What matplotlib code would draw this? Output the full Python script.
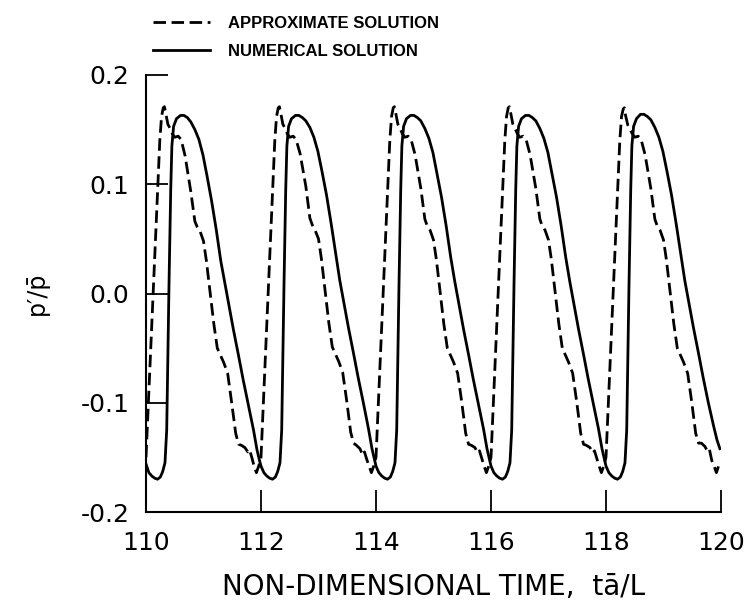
import matplotlib
matplotlib.use("Agg")
import matplotlib.pyplot as plt

# ---- data ----
approx_t = [
    110.00, 110.06, 110.12, 110.18, 110.24, 110.27, 110.30, 110.32, 110.34, 110.38,
    110.42, 110.46, 110.50, 110.56, 110.61, 110.68, 110.78, 110.85, 110.89, 110.94,
    111.00, 111.05, 111.10, 111.18, 111.24, 111.29, 111.35, 111.42, 111.49, 111.56,
    111.61, 111.66, 111.72, 111.77, 111.80, 111.84, 111.88, 111.92, 111.96,
    112.00, 112.06, 112.12, 112.18, 112.24, 112.27, 112.30, 112.32, 112.34, 112.38,
    112.42, 112.46, 112.50, 112.56, 112.61, 112.68, 112.78, 112.85, 112.89, 112.94,
    113.00, 113.05, 113.10, 113.18, 113.24, 113.29, 113.35, 113.42, 113.49, 113.56,
    113.61, 113.66, 113.72, 113.77, 113.80, 113.84, 113.88, 113.92, 113.96,
    114.00, 114.06, 114.12, 114.18, 114.24, 114.27, 114.30, 114.32, 114.34, 114.38,
    114.42, 114.46, 114.50, 114.56, 114.61, 114.68, 114.78, 114.85, 114.89, 114.94,
    115.00, 115.05, 115.10, 115.18, 115.24, 115.29, 115.35, 115.42, 115.49, 115.56,
    115.61, 115.66, 115.72, 115.77, 115.80, 115.84, 115.88, 115.92, 115.96,
    116.00, 116.06, 116.12, 116.18, 116.24, 116.27, 116.30, 116.32, 116.34, 116.38,
    116.42, 116.46, 116.50, 116.56, 116.61, 116.68, 116.78, 116.85, 116.89, 116.94,
    117.00, 117.05, 117.10, 117.18, 117.24, 117.29, 117.35, 117.42, 117.49, 117.56,
    117.61, 117.66, 117.72, 117.77, 117.80, 117.84, 117.88, 117.92, 117.96,
    118.00, 118.06, 118.12, 118.18, 118.24, 118.27, 118.30, 118.32, 118.34, 118.38,
    118.42, 118.46, 118.50, 118.56, 118.61, 118.68, 118.78, 118.85, 118.89, 118.94,
    119.00, 119.05, 119.10, 119.18, 119.24, 119.29, 119.35, 119.42, 119.49, 119.56,
    119.61, 119.66, 119.72, 119.77, 119.80, 119.84, 119.88, 119.92, 119.97,
]
approx_p = [
    -0.150, -0.078, -0.006, 0.066, 0.140, 0.162, 0.170, 0.171, 0.166, 0.155,
    0.151, 0.146, 0.143, 0.144, 0.141, 0.126, 0.093, 0.066, 0.061, 0.057,
    0.048, 0.030, 0.008, -0.028, -0.050, -0.056, -0.063, -0.073, -0.100, -0.128,
    -0.138, -0.139, -0.141, -0.145, -0.143, -0.150, -0.158, -0.164, -0.158,
    -0.150, -0.078, -0.006, 0.066, 0.140, 0.162, 0.170, 0.171, 0.166, 0.155,
    0.151, 0.146, 0.143, 0.144, 0.141, 0.128, 0.098, 0.069, 0.063, 0.058,
    0.050, 0.032, 0.009, -0.027, -0.049, -0.055, -0.062, -0.072, -0.098, -0.127,
    -0.137, -0.139, -0.142, -0.148, -0.145, -0.152, -0.158, -0.164, -0.158,
    -0.150, -0.078, -0.006, 0.066, 0.140, 0.162, 0.170, 0.171, 0.166, 0.155,
    0.151, 0.146, 0.143, 0.144, 0.141, 0.127, 0.096, 0.068, 0.062, 0.058,
    0.049, 0.031, 0.008, -0.028, -0.050, -0.056, -0.063, -0.073, -0.099, -0.128,
    -0.138, -0.139, -0.141, -0.146, -0.144, -0.151, -0.158, -0.164, -0.158,
    -0.150, -0.078, -0.006, 0.066, 0.140, 0.162, 0.170, 0.171, 0.166, 0.155,
    0.151, 0.146, 0.143, 0.144, 0.141, 0.127, 0.096, 0.068, 0.062, 0.058,
    0.049, 0.031, 0.008, -0.028, -0.050, -0.056, -0.063, -0.073, -0.099, -0.128,
    -0.138, -0.139, -0.141, -0.146, -0.144, -0.151, -0.158, -0.164, -0.158,
    -0.150, -0.078, -0.006, 0.066, 0.140, 0.162, 0.169, 0.170, 0.163, 0.154,
    0.150, 0.146, 0.143, 0.144, 0.141, 0.127, 0.096, 0.068, 0.062, 0.058,
    0.049, 0.031, 0.008, -0.028, -0.050, -0.056, -0.063, -0.073, -0.099, -0.128,
    -0.137, -0.137, -0.140, -0.145, -0.143, -0.153, -0.158, -0.164, -0.156,
]

numer_t = [
    110.00, 110.05, 110.10, 110.15, 110.20, 110.25, 110.29, 110.33, 110.36, 110.38,
    110.40, 110.43, 110.45, 110.48, 110.53, 110.60, 110.66, 110.72, 110.78, 110.85,
    110.92, 110.99, 111.06, 111.14, 111.22, 111.30, 111.37, 111.45, 111.52, 111.61,
    111.69, 111.78, 111.87, 111.93, 111.97,
    112.00, 112.05, 112.10, 112.15, 112.20, 112.25, 112.29, 112.33, 112.36, 112.38,
    112.40, 112.43, 112.45, 112.48, 112.53, 112.60, 112.66, 112.72, 112.78, 112.85,
    112.92, 112.99, 113.06, 113.14, 113.22, 113.30, 113.37, 113.45, 113.52, 113.61,
    113.69, 113.78, 113.87, 113.93, 113.97,
    114.00, 114.05, 114.10, 114.15, 114.20, 114.25, 114.29, 114.33, 114.36, 114.38,
    114.40, 114.43, 114.45, 114.48, 114.53, 114.60, 114.66, 114.72, 114.78, 114.85,
    114.92, 114.99, 115.06, 115.14, 115.22, 115.30, 115.37, 115.45, 115.52, 115.61,
    115.69, 115.78, 115.87, 115.93, 115.97,
    116.00, 116.05, 116.10, 116.15, 116.20, 116.25, 116.29, 116.33, 116.36, 116.38,
    116.40, 116.43, 116.45, 116.48, 116.53, 116.60, 116.66, 116.72, 116.78, 116.85,
    116.92, 116.99, 117.06, 117.14, 117.22, 117.30, 117.37, 117.45, 117.52, 117.61,
    117.69, 117.78, 117.87, 117.93, 117.97,
    118.00, 118.05, 118.10, 118.15, 118.20, 118.25, 118.29, 118.33, 118.36, 118.38,
    118.40, 118.43, 118.45, 118.48, 118.53, 118.60, 118.66, 118.72, 118.78, 118.85,
    118.92, 118.99, 119.06, 119.14, 119.22, 119.30, 119.37, 119.45, 119.52, 119.61,
    119.69, 119.78, 119.87, 119.93, 119.98,
]
numer_p = [
    -0.156, -0.164, -0.167, -0.169, -0.170, -0.168, -0.163, -0.155, -0.125, -0.060,
    0.008, 0.095, 0.135, 0.153, 0.160, 0.163, 0.163, 0.161, 0.157, 0.150,
    0.141, 0.127, 0.108, 0.085, 0.059, 0.030, 0.010, -0.013, -0.033, -0.057,
    -0.079, -0.102, -0.125, -0.143, -0.152,
    -0.158, -0.164, -0.167, -0.169, -0.170, -0.168, -0.163, -0.155, -0.125, -0.060,
    0.008, 0.095, 0.135, 0.153, 0.160, 0.163, 0.163, 0.161, 0.158, 0.152,
    0.143, 0.130, 0.112, 0.090, 0.064, 0.036, 0.012, -0.011, -0.031, -0.055,
    -0.077, -0.100, -0.124, -0.142, -0.151,
    -0.158, -0.164, -0.167, -0.169, -0.170, -0.168, -0.163, -0.155, -0.125, -0.060,
    0.008, 0.095, 0.135, 0.153, 0.160, 0.163, 0.163, 0.161, 0.158, 0.151,
    0.142, 0.129, 0.110, 0.088, 0.062, 0.033, 0.011, -0.012, -0.032, -0.056,
    -0.078, -0.101, -0.124, -0.142, -0.151,
    -0.158, -0.164, -0.167, -0.169, -0.170, -0.168, -0.163, -0.155, -0.125, -0.060,
    0.008, 0.095, 0.135, 0.153, 0.160, 0.163, 0.163, 0.161, 0.158, 0.151,
    0.142, 0.129, 0.110, 0.088, 0.062, 0.033, 0.011, -0.012, -0.032, -0.056,
    -0.078, -0.101, -0.124, -0.142, -0.151,
    -0.158, -0.164, -0.167, -0.169, -0.170, -0.168, -0.163, -0.155, -0.125, -0.060,
    0.008, 0.095, 0.135, 0.153, 0.160, 0.164, 0.164, 0.162, 0.159, 0.152,
    0.143, 0.130, 0.112, 0.090, 0.064, 0.036, 0.012, -0.011, -0.031, -0.055,
    -0.077, -0.100, -0.121, -0.134, -0.142,
]

x_ticks = [110, 112, 114, 116, 118, 120]
x_ticklabels = ["110", "112", "114", "116", "118", "120"]
y_ticks = [-0.2, -0.1, 0.0, 0.1, 0.2]
y_ticklabels = ["-0.2", "-0.1", "0.0", "0.1", "0.2"]

series_labels = ["APPROXIMATE SOLUTION", "NUMERICAL SOLUTION"]

# ---- figure ----
plt.rcParams['font.family'] = ['DejaVu Sans']
fig = plt.figure(figsize=(7.48, 6.12), dpi=100)
ax = fig.add_axes([146 / 748, 1 - 512 / 612, (721 - 146) / 748, (512 - 75) / 612])

lw = 2.0
l1, = ax.plot(approx_t, approx_p, color="black", lw=lw, linestyle=(0, (4.5, 2.0)),
              dash_capstyle="butt")
l2, = ax.plot(numer_t, numer_p, color="black", lw=lw)

ax.set_xlim(110, 120)
ax.set_ylim(-0.2, 0.2)
for s in ["top", "right"]:
    ax.spines[s].set_visible(False)
for s in ["left", "bottom"]:
    ax.spines[s].set_linewidth(1.5)

ax.set_xticks(x_ticks)
ax.set_xticklabels(x_ticklabels)
ax.set_yticks(y_ticks)
ax.set_yticklabels(y_ticklabels)
ax.tick_params(axis="both", direction="in", length=16, width=1.3, labelsize=18)
ax.tick_params(axis="x", pad=14)
ax.tick_params(axis="y", pad=12)

ax.set_xlabel("NON-DIMENSIONAL TIME,  tā/L", fontsize=20, labelpad=13)
ax.set_ylabel("p′/p̄", fontsize=17, labelpad=23)

leg = fig.legend([l1, l2], series_labels, loc="upper left",
                 bbox_to_anchor=(138 / 748, 1 - 1 / 612), frameon=False,
                 handlelength=3.4, handletextpad=1.1, labelspacing=0.75,
                 prop={"size": 12, "weight": "bold", "family": "Liberation Sans"})

fig.savefig("out.png", dpi=100)
